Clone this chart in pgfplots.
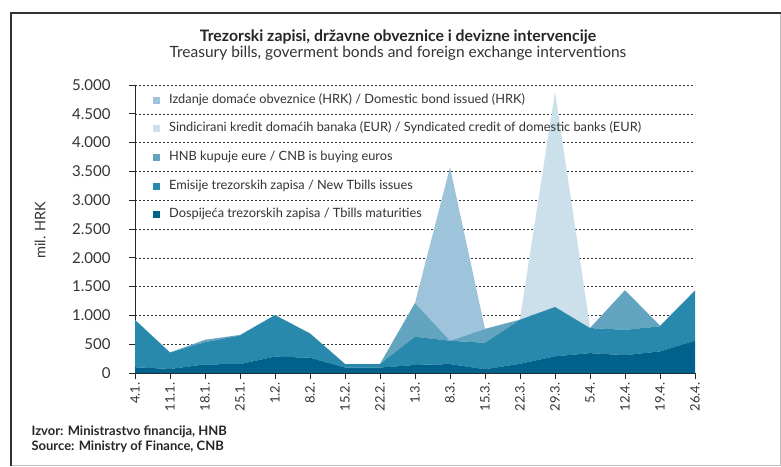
\documentclass[border=0pt]{standalone}
\usepackage{fontspec}
\setmainfont{Lato}
\usepackage{pgfplots}
\usepackage{pgfplotstable}
\pgfplotsset{compat=1.18}
\definecolor{cD}{HTML}{00628A}
\definecolor{cE}{HTML}{2889AD}
\definecolor{cH}{HTML}{63A5C0}
\definecolor{cI}{HTML}{9DC4DA}
\definecolor{cS}{HTML}{CBE0EA}
\definecolor{txt}{HTML}{333333}
\pgfplotstableread{
x D E H S I
0 100 820 0 0 0
1 70 285 0 0 0
2 150 385 40 0 0
3 155 495 10 0 0
4 285 720 0 0 0
5 265 420 0 0 0
6 95 60 0 0 0
7 95 60 0 0 0
8 140 490 585 0 0
9 155 405 0 0 3010
10 65 460 240 0 0
11 160 765 0 0 0
12 290 855 0 3720 0
13 345 435 0 0 0
14 310 440 685 0 0
15 375 435 10 0 0
16 560 870 0 0 0
}\datatable
\begin{document}
\begin{tikzpicture}
\useasboundingbox (0pt,0pt) rectangle (781pt,466pt);
\fill[white] (0pt,0pt) rectangle (781pt,466pt);
\draw[black!25, line width=1pt] (11pt,453pt) -- (780pt,453pt) -- (780pt,1pt) -- (11pt,1pt);
\draw[black!80, line width=2.5pt] (11pt,0.5pt) -- (11pt,453pt) -- (780.5pt,453pt);
\node[anchor=base, text=black!85, font=\bfseries\fontsize{15.8}{18}\selectfont] at (398pt,424pt) {Trezorski zapisi, državne obveznice i devizne intervencije};
\node[anchor=base, text=txt, font=\fontsize{15.5}{18}\selectfont] at (398pt,408pt) {Treasury bills, goverment bonds and foreign exchange interventions};
\node[rotate=90, text=txt, font=\fontsize{14.5}{16}\selectfont] at (40pt,236pt) {mil. HRK};
\node[anchor=west, text=black!85, font=\bfseries\fontsize{13}{15}\selectfont] at (28pt,34pt) {Izvor: Ministrastvo financija, HNB};
\node[anchor=west, text=black!85, font=\bfseries\fontsize{13}{15}\selectfont] at (28pt,19pt) {Source: Ministry of Finance, CNB};
\begin{axis}[
  at={(135pt,93pt)}, anchor=origin,
  scale only axis, width=560pt, height=288pt,
  xmin=0, xmax=16, ymin=0, ymax=5000,
  stack plots=y,
  axis x line=bottom, axis y line=left,
  axis line style={-},
  x axis line style={line width=2.5pt, black!85},
  y axis line style={line width=1pt, black!85},
  tick align=outside,
  major tick length=6pt,
  tick style={black!85, line width=0.8pt},
  xtick={0,...,16},
  xticklabels={4.1.,11.1.,18.1.,25.1.,1.2.,8.2.,15.2.,22.2.,1.3.,8.3.,15.3.,22.3.,29.3.,5.4.,12.4.,19.4.,26.4.},
  xticklabel style={rotate=90, anchor=east, text=txt, font=\fontsize{13}{15}\selectfont},
  ytick={0,500,...,5000},
  yticklabel shift=15pt,
  yticklabel style={text=txt, font=\fontsize{15}{17}\selectfont},
  /pgf/number format/assume math mode=true,
  /pgf/number format/.cd, 1000 sep={.}, /pgfplots/.cd,
  ymajorgrids,
  major grid style={dash pattern=on 2pt off 2pt, black!80, line width=0.6pt},
  reverse legend,
  legend cell align=left,
  legend image code/.code={\fill[#1] (0pt,-3.5pt) rectangle (7pt,3.5pt);},
  legend style={at={(0.032,0.969)}, anchor=north west, draw=none, fill=none,
    inner sep=0pt, column sep=9pt, row sep=16.7pt,
    nodes={inner sep=0pt, text height=9pt, text depth=3pt, text=txt},
    font=\fontsize{12.8}{15}\selectfont},
]
\addplot[fill=cD, draw=none] table[x=x, y=D] {\datatable} \closedcycle;
\addlegendentry{Dospijeća trezorskih zapisa / Tbills maturities}
\addplot[fill=cE, draw=none] table[x=x, y=E] {\datatable} \closedcycle;
\addlegendentry{Emisije trezorskih zapisa / New Tbills issues}
\addplot[fill=cH, draw=none] table[x=x, y=H] {\datatable} \closedcycle;
\addlegendentry{HNB kupuje eure / CNB is buying euros}
\addplot[fill=cS, draw=none] table[x=x, y=S] {\datatable} \closedcycle;
\addlegendentry{Sindicirani kredit domaćih banaka (EUR) / Syndicated credit of domestic banks (EUR)}
\addplot[fill=cI, draw=none] table[x=x, y=I] {\datatable} \closedcycle;
\addlegendentry{Izdanje domaće obveznice (HRK) / Domestic bond issued (HRK)}
\end{axis}
\end{tikzpicture}
\end{document}
